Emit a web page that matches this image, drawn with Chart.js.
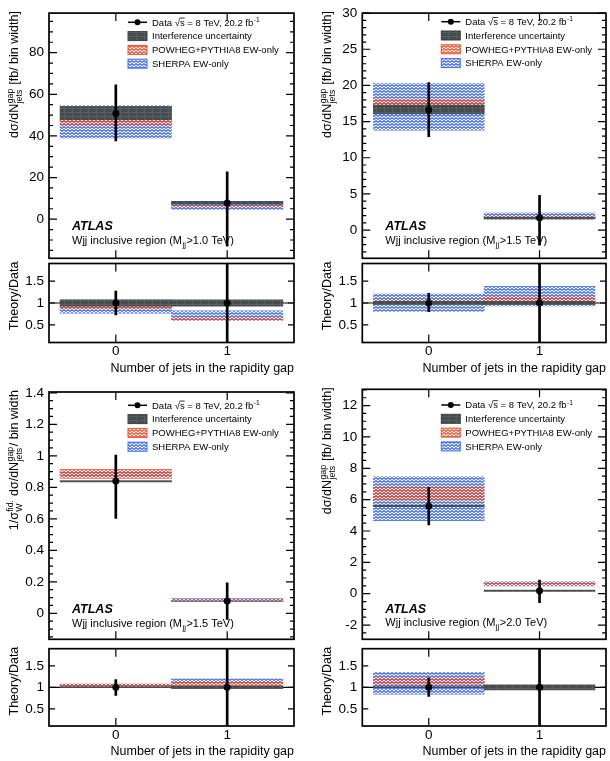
<!DOCTYPE html>
<html>
<head>
<meta charset="utf-8">
<title>Wjj rapidity gap jets</title>
<script src="https://cdn.jsdelivr.net/npm/chart.js@4.4.1/dist/chart.umd.min.js"></script>
<style>
  body { margin: 0; background: #fff; }
  #wrap { position: relative; width: 610px; height: 761px; }
  #wrap canvas { position: absolute; left: 0; top: 0; }
</style>
</head>
<body>
<div id="wrap">
  <canvas id="m1" width="610" height="761"></canvas>
  <canvas id="r1" width="610" height="761"></canvas>
  <canvas id="m2" width="610" height="761"></canvas>
  <canvas id="r2" width="610" height="761"></canvas>
  <canvas id="m3" width="610" height="761"></canvas>
  <canvas id="r3" width="610" height="761"></canvas>
  <canvas id="m4" width="610" height="761"></canvas>
  <canvas id="r4" width="610" height="761"></canvas>
</div>
<script>
// bins: number of jets in the rapidity gap
const bins = [0, 1];
const xTickVals = [0, 1];
const ratioTicks = [0.5, 1, 1.5];
const ratioLineX = [-0.6, 1.6];
const ratioLineY = [1, 1];
const ratioPoint = [1, 1];

// Mjj > 1.0 TeV
const dataA = [50.8, 7.8];
const dataALo = [37.6, -13.0];
const dataAHi = [64.5, 22.7];
const interfA = [[47.8, 54.1], [7.1, 8.6]];
const powhegA = [[45.0, 47.8], [5.5, 6.3]];
const sherpaA = [[38.9, 54.6], [4.7, 7.8]];
const ticksA = [0, 20, 40, 60, 80];
const rInterfA = [[0.93, 1.07], [0.93, 1.07]];
const rPowhegA = [[0.87, 0.92], [0.61, 0.66]];
const rSherpaA = [[0.77, 1.07], [0.61, 0.82]];
const rDataA = [[0.73, 1.27], [-1.0, 3.0]];

// Mjj > 1.5 TeV
const dataB = [16.6, 1.7];
const dataBLo = [12.9, -2.1];
const dataBHi = [20.4, 4.8];
const interfB = [[16.05, 17.3], [1.55, 1.8]];
const powhegB = [[16.5, 18.1], [1.6, 1.95]];
const sherpaB = [[13.8, 20.3], [1.5, 2.4]];
const ticksB = [0, 5, 10, 15, 20, 25, 30];
const rInterfB = [[0.96, 1.04], [0.96, 1.04]];
const rPowhegB = [[1.0, 1.08], [1.0, 1.15]];
const rSherpaB = [[0.81, 1.21], [0.93, 1.38]];
const rDataB = [[0.8, 1.22], [-1.0, 3.0]];

// Mjj > 1.5 TeV, normalised to fiducial cross section
const dataC = [0.84, 0.078];
const dataCLo = [0.603, -0.038];
const dataCHi = [1.005, 0.194];
const interfC = [[0.834, 0.842], [0.0765, 0.0795]];
const powhegC = [[0.857, 0.914], [0.076, 0.088]];
const sherpaC = [[0.867, 0.9], [0.082, 0.094]];
const ticksC = [0, 0.2, 0.4, 0.6, 0.8, 1, 1.2, 1.4];
const rInterfC = [[0.99, 1.01], [0.97, 1.03]];
const rPowhegC = [[1.01, 1.08], [0.98, 1.13]];
const rSherpaC = [[1.02, 1.07], [1.08, 1.2]];
const rDataC = [[0.81, 1.18], [-1.0, 3.0]];

// Mjj > 2.0 TeV
const dataD = [5.6, 0.19];
const dataDLo = [4.38, -0.57];
const dataDHi = [6.79, 0.87];
const interfD = [[5.55, 5.65], [0.15, 0.23]];
const powhegD = [[5.98, 6.79], [0.53, 0.7]];
const sherpaD = [[4.66, 7.47], [0.49, 0.77]];
const ticksD = [-2, 0, 2, 4, 6, 8, 10, 12];
const rInterfD = [[0.99, 1.01], [0.94, 1.06]];
const rPowhegD = [[1.06, 1.23], [2.6, 3.7]];
const rSherpaD = [[0.84, 1.35], [2.4, 4.0]];
const rDataD = [[0.79, 1.22], [-1.0, 3.0]];

const FONT = '"Liberation Sans", Arial, Helvetica, sans-serif';
Chart.defaults.font.family = FONT;
Chart.defaults.color = '#000';

function wavePattern(color) {
  const c = document.createElement('canvas');
  c.width = 4; c.height = 3;
  const g = c.getContext('2d');
  g.strokeStyle = color;
  g.lineWidth = 1.2;
  g.beginPath();
  g.moveTo(-1, 1.5); g.lineTo(0, 0.6); g.lineTo(2, 2.4); g.lineTo(4, 0.6); g.lineTo(5, 1.5);
  g.stroke();
  return g.createPattern(c, 'repeat');
}
function grayPattern() {
  const c = document.createElement('canvas');
  c.width = 8; c.height = 4;
  const g = c.getContext('2d');
  g.fillStyle = '#474d4f';
  g.fillRect(0, 0, 8, 4);
  g.fillStyle = '#585e60';
  g.fillRect(0, 0, 8, 1);
  g.fillRect(0, 0, 1, 4);
  return g.createPattern(c, 'repeat');
}
const blueFill = wavePattern('#3764f2');
const redFill = wavePattern('#ee4a28');
const grayFill = grayPattern();

function setFont(ctx, size, style) { ctx.font = (style || '') + ' ' + size + 'px ' + FONT; }
function partWidth(ctx, p, size) {
  if (typeof p === 'string') { setFont(ctx, size); return ctx.measureText(p).width; }
  if (p.sqrt) { setFont(ctx, size); return ctx.measureText('\u221A' + p.sqrt).width; }
  setFont(ctx, size * 0.7);
  return Math.max(p.sup ? ctx.measureText(p.sup).width : 0, p.sub ? ctx.measureText(p.sub).width : 0) + 1;
}
function richWidth(ctx, parts, size) {
  return parts.reduce((w, p) => w + partWidth(ctx, p, size), 0);
}
function drawRich(ctx, parts, x, y, size) {
  ctx.textAlign = 'left';
  ctx.textBaseline = 'alphabetic';
  let cx = x;
  parts.forEach(p => {
    const w = partWidth(ctx, p, size);
    if (typeof p === 'string') {
      ctx.fillText(p, cx, y);
    } else if (p.sqrt) {
      ctx.fillText('\u221A' + p.sqrt, cx, y);
      const rw = ctx.measureText('\u221A').width;
      ctx.fillRect(cx + rw - 0.5, y - size * 0.84, w - rw + 0.5, 0.8);
    } else {
      if (p.sup) ctx.fillText(p.sup, cx + 0.5, y - size * 0.4);
      if (p.sub) ctx.fillText(p.sub, cx + 0.5, y + size * 0.3);
    }
    cx += w;
  });
}
function drawYTitle(ctx, parts, cx, topY, size) {
  const w = richWidth(ctx, parts, size);
  ctx.save();
  ctx.translate(cx, topY);
  ctx.rotate(-Math.PI / 2);
  drawRich(ctx, parts, -w, size * 0.35, size);
  ctx.restore();
}

const dataLegend = ['Data ', { sqrt: 's' }, ' = 8 TeV, 20.2 fb', { sup: '-1' }];
const absTitle = ['d\u03C3/dN', { sup: 'gap', sub: 'jets' }, ' [fb/ bin width]'];
const normTitle = ['1/\u03C3', { sup: 'fid.', sub: 'W' }, ' d\u03C3/dN', { sup: 'gap', sub: 'jets' }, '/ bin width'];
const ratioTitle = ['Theory/Data'];

// frame, inward ticks, legend and labels
const framePlugin = {
  id: 'frame',
  afterDraw(chart, args, o) {
    const { ctx, chartArea: a, scales: { x, y } } = chart;
    ctx.save();
    ctx.strokeStyle = '#000';
    ctx.lineWidth = 1.2;
    ctx.beginPath();
    x.ticks.forEach(t => {
      const px = x.getPixelForValue(t.value);
      ctx.moveTo(px, a.bottom); ctx.lineTo(px, a.bottom - o.xLen);
      ctx.moveTo(px, a.top); ctx.lineTo(px, a.top + o.xLen);
    });
    y.ticks.forEach(t => {
      const py = y.getPixelForValue(t.value);
      ctx.moveTo(a.left, py); ctx.lineTo(a.left + o.yLen, py);
      ctx.moveTo(a.right, py); ctx.lineTo(a.right - o.yLen, py);
    });
    if (o.minor) {
      for (let k = Math.ceil(y.min / o.minor); k * o.minor <= y.max; k++) {
        const py = y.getPixelForValue(k * o.minor);
        ctx.moveTo(a.left, py); ctx.lineTo(a.left + 4, py);
        ctx.moveTo(a.right, py); ctx.lineTo(a.right - 4, py);
      }
    }
    ctx.stroke();
    ctx.lineWidth = 1.7;
    ctx.strokeRect(a.left, a.top, a.right - a.left, a.bottom - a.top);

    ctx.fillStyle = '#000';
    drawYTitle(ctx, o.yTitle, a.left - 35.5, a.top - 2, 12.5);

    if (o.legendY !== undefined) {
      const lx = a.left + 79;
      const ds = chart.data.datasets.filter(d => d.legendParts);
      ds.forEach((d, i) => {
        const ly = o.legendY + i * 13.8;
        if (d.type === 'line') {
          ctx.lineWidth = 1.5;
          ctx.beginPath(); ctx.moveTo(lx, ly); ctx.lineTo(lx + 19, ly); ctx.stroke();
          ctx.beginPath(); ctx.arc(lx + 9.5, ly, 3, 0, Math.PI * 2); ctx.fill();
        } else {
          ctx.fillStyle = d.backgroundColor;
          ctx.fillRect(lx, ly - 4.5, 19, 9);
          ctx.strokeStyle = d.edgeColor;
          ctx.lineWidth = 1;
          ctx.strokeRect(lx, ly - 4.5, 19, 9);
          ctx.strokeStyle = '#000';
          ctx.fillStyle = '#000';
        }
        drawRich(ctx, d.legendParts, lx + 24, ly + 9.5 * 0.35, 9.5);
      });
    }
    if (o.region) {
      setFont(ctx, 12.5, 'italic bold');
      ctx.textAlign = 'left';
      ctx.textBaseline = 'middle';
      ctx.fillText('ATLAS', a.left + 23, a.bottom - o.atlasOff);
      drawRich(ctx, o.region, a.left + 23, a.bottom - o.regionOff + 11 * 0.35, 11);
    }
    ctx.restore();
  }
};

const Y_W = 49;
const X_MIN = -0.6, X_MAX = 1.6;

function pts(vals) { return bins.map((x, i) => ({ x, y: vals[i] })); }
function bands(vals) { return bins.map((x, i) => ({ x, y: vals[i] })); }
function errs(lo, hi) { return bins.map((x, i) => ({ x, y: [lo[i], hi[i]] })); }

function makeChart(id, frame, yMin, yMax, yTicks, isRatio, datasets, extra) {
  const xH = isRatio ? 33.5 : 0;
  return new Chart(document.getElementById(id), {
    type: 'bar',
    data: { datasets },
    options: {
      responsive: false,
      animation: false,
      events: [],
      layout: {
        padding: {
          left: frame.left - Y_W,
          top: frame.top,
          right: 610 - frame.right,
          bottom: 761 - frame.bottom - xH
        }
      },
      datasets: { bar: { grouped: false, barPercentage: 1, categoryPercentage: 1 } },
      plugins: {
        legend: { display: false },
        tooltip: { enabled: false },
        frame: Object.assign({ xLen: 8, yLen: isRatio ? 6 : 8 }, extra)
      },
      scales: {
        x: {
          type: 'linear', min: X_MIN, max: X_MAX, offset: false,
          grid: { display: false, drawTicks: false },
          border: { display: false },
          afterBuildTicks: s => { s.ticks = xTickVals.map(v => ({ value: v })); },
          afterFit: s => { s.height = xH; },
          ticks: { display: isRatio, color: '#000', font: { size: 13.5 }, padding: 1, maxRotation: 0, autoSkip: false, callback: v => String(v) },
          title: { display: isRatio, text: 'Number of jets in the rapidity gap', align: 'end', color: '#000', font: { size: 12.5 }, padding: 0 }
        },
        y: {
          type: 'linear', min: yMin, max: yMax,
          grid: { display: false, drawTicks: false },
          border: { display: false },
          afterBuildTicks: s => { s.ticks = yTicks.map(v => ({ value: v })); },
          afterFit: s => { s.width = Y_W; },
          ticks: { color: '#000', font: { size: 13.5 }, padding: 5, callback: v => String(v) }
        }
      }
    },
    plugins: [framePlugin]
  });
}

function mainSets(d, lo, hi, interf, powheg, sherpa) {
  return [
    { type: 'line', data: pts(d), showLine: false, pointRadius: 3.5, pointBorderWidth: 0, pointBackgroundColor: '#000', order: 0, legendParts: dataLegend },
    { type: 'bar', data: errs(lo, hi), backgroundColor: '#000', maxBarThickness: 2, order: 1 },
    { type: 'bar', data: bands(interf), backgroundColor: grayFill, edgeColor: '#3c4142', order: 2, legendParts: ['Interference uncertainty'] },
    { type: 'bar', data: bands(powheg), backgroundColor: redFill, edgeColor: '#e8502e', order: 3, legendParts: ['POWHEG+PYTHIA8 EW-only'] },
    { type: 'bar', data: bands(sherpa), backgroundColor: blueFill, edgeColor: '#3f6ef0', order: 4, legendParts: ['SHERPA EW-only'] }
  ];
}
function ratioSets(rd, interf, powheg, sherpa) {
  return [
    { type: 'line', data: pts(ratioPoint), showLine: false, pointRadius: 3.5, pointBorderWidth: 0, pointBackgroundColor: '#000', order: 0 },
    { type: 'bar', data: errs(rd.map(v => v[0]), rd.map(v => v[1])), backgroundColor: '#000', maxBarThickness: 2, order: 1 },
    { type: 'bar', data: bands(interf), backgroundColor: grayFill, order: 2 },
    { type: 'bar', data: bands(powheg), backgroundColor: redFill, order: 3 },
    { type: 'bar', data: bands(sherpa), backgroundColor: blueFill, order: 4 },
    { type: 'line', data: ratioLineX.map((x, i) => ({ x, y: ratioLineY[i] })), borderColor: '#000', borderWidth: 1.2, pointRadius: 0, order: 5 }
  ];
}

const region = (cut) => ['Wjj inclusive region (M', { sub: 'jj' }, '>' + cut + ' TeV)'];

// top left
makeChart('m1', { left: 49, right: 294, top: 8, bottom: 258.3 }, -18.8, 99, ticksA, false,
  mainSets(dataA, dataALo, dataAHi, interfA, powhegA, sherpaA),
  { minor: 5, yTitle: absTitle, legendY: 22.3, region: region('1.0'), atlasOff: 32, regionOff: 18 });
makeChart('r1', { left: 49, right: 294, top: 263.5, bottom: 342.5 }, 0.1, 1.9, ratioTicks, true,
  ratioSets(rDataA, rInterfA, rPowhegA, rSherpaA), { yTitle: ratioTitle });

// top right
makeChart('m2', { left: 362.3, right: 608.5, top: 7.8, bottom: 258.3 }, -3.9, 30, ticksB, false,
  mainSets(dataB, dataBLo, dataBHi, interfB, powhegB, sherpaB),
  { minor: 1, yTitle: absTitle, legendY: 21.7, region: region('1.5'), atlasOff: 32, regionOff: 18 });
makeChart('r2', { left: 362.3, right: 608.5, top: 263.5, bottom: 342.5 }, 0.1, 1.9, ratioTicks, true,
  ratioSets(rDataB, rInterfB, rPowhegB, rSherpaB), { yTitle: ratioTitle });

// bottom left
makeChart('m3', { left: 49, right: 294, top: 392, bottom: 639.3 }, -0.165, 1.405, ticksC, false,
  mainSets(dataC, dataCLo, dataCHi, interfC, powhegC, sherpaC),
  { minor: 0.05, yTitle: normTitle, legendY: 405.3, region: region('1.5'), atlasOff: 30, regionOff: 16.5 });
makeChart('r3', { left: 49, right: 294, top: 648.7, bottom: 726 }, 0.1, 1.9, ratioTicks, true,
  ratioSets(rDataC, rInterfC, rPowhegC, rSherpaC), { yTitle: ratioTitle });

// bottom right
makeChart('m4', { left: 362.3, right: 608.5, top: 389.3, bottom: 639.3 }, -2.91, 13.04, ticksD, false,
  mainSets(dataD, dataDLo, dataDHi, interfD, powhegD, sherpaD),
  { minor: 0.5, yTitle: absTitle, legendY: 405, region: region('2.0'), atlasOff: 30, regionOff: 17 });
makeChart('r4', { left: 362.3, right: 608.5, top: 648.7, bottom: 726 }, 0.1, 1.9, ratioTicks, true,
  ratioSets(rDataD, rInterfD, rPowhegD, rSherpaD), { yTitle: ratioTitle });
</script>
</body>
</html>
